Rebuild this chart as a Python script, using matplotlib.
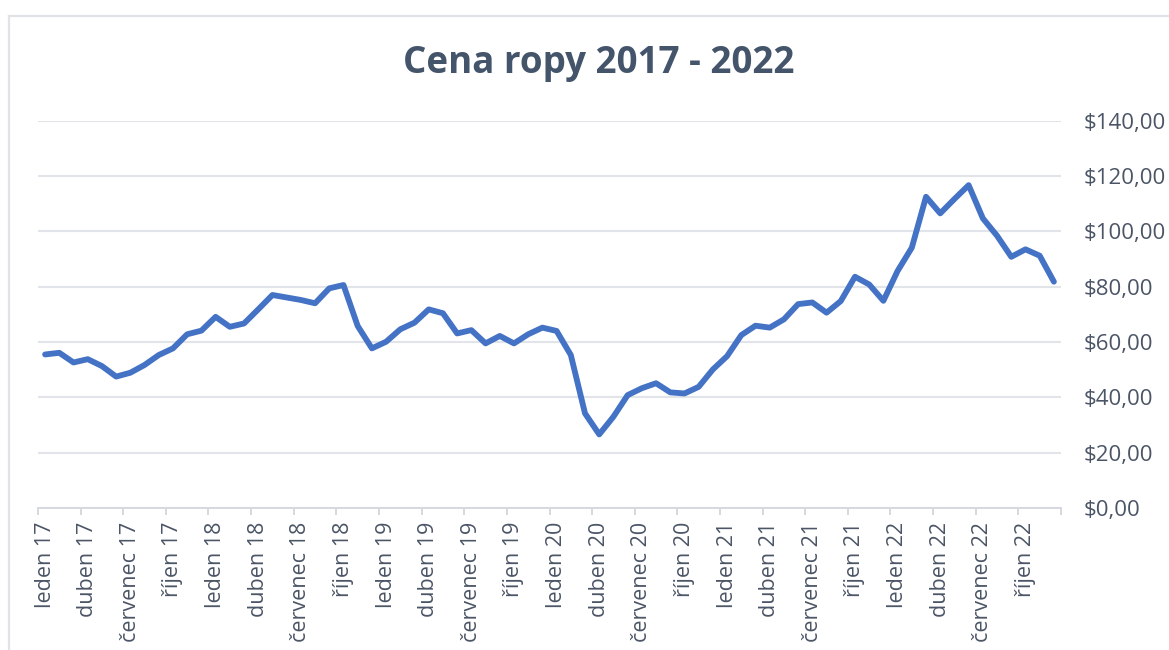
import matplotlib
matplotlib.use("Agg")
import matplotlib.pyplot as plt
from matplotlib.ticker import FuncFormatter, FixedLocator
from matplotlib.lines import Line2D

months_cz = ["leden", "únor", "březen", "duben", "květen", "červen",
             "červenec", "srpen", "září", "říjen", "listopad", "prosinec"]
years = ["17", "18", "19", "20", "21", "22"]
categories = [f"{m} {y}" for y in years for m in months_cz]

prices = [
    55.5, 56.1, 52.6, 53.8, 51.3, 47.5, 48.9, 51.7, 55.3, 57.7, 62.8, 64.1,
    69.1, 65.5, 66.7, 71.8, 77.0, 76.1, 75.2, 74.0, 79.4, 80.6, 65.8, 57.7,
    60.1, 64.6, 67.0, 71.8, 70.4, 63.1, 64.3, 59.5, 62.2, 59.5, 62.8, 65.2,
    64.0, 55.3, 34.2, 26.6, 33.0, 40.8, 43.3, 45.1, 41.8, 41.4, 43.8, 50.1,
    54.9, 62.5, 65.9, 65.2, 68.2, 73.7, 74.3, 70.6, 74.8, 83.6, 80.8, 74.9,
    85.7, 94.1, 112.5, 106.5, 111.7, 116.7, 104.7, 98.4, 90.8, 93.5, 91.2, 81.8,
]

title = "Cena ropy 2017 - 2022"
y_ticks = [0, 20, 40, 60, 80, 100, 120, 140]

FONT = "Open Sans"
TXT = "#4B5566"
TITLE_C = "#44546A"
LINE_C = "#4472C4"
GRID_C = "#E1E4E9"

W, H = 1169, 650
fig = plt.figure(figsize=(W / 100, H / 100), dpi=100)
fig.patch.set_facecolor("white")

ax = fig.add_axes([38 / W, 1 - 508 / H, (1061 - 38) / W, (508 - 120.7) / H])
x = list(range(len(prices)))
ax.plot(x, prices, color=LINE_C, lw=4.2, solid_joinstyle="round",
        solid_capstyle="round", zorder=3, clip_on=False)

ax.set_xlim(-0.5, len(prices) - 0.5)
ax.set_ylim(0, 140)

# y axis on right
ax.yaxis.tick_right()
ax.set_yticks(y_ticks)
ax.yaxis.set_major_formatter(FuncFormatter(lambda v, p: f"${v:.2f}".replace(".", ",")))
ax.tick_params(axis="y", length=0, pad=16.5, labelsize=16, labelcolor=TXT)
for lab in ax.get_yticklabels():
    lab.set_fontfamily(FONT)
ax.grid(axis="y", color=GRID_C, lw=1.5, zorder=0)

# x axis: boundary ticks every 3 months, labels on first month of each quarter
bounds = [i - 0.5 for i in range(0, len(prices) + 1, 3)]
label_pos = list(range(0, len(prices), 3))
ax.xaxis.set_major_locator(FixedLocator(bounds))
ax.xaxis.set_major_formatter(FuncFormatter(lambda v, p: ""))
ax.xaxis.set_minor_locator(FixedLocator(label_pos))
ax.set_xticklabels([categories[i] for i in label_pos], minor=True)
ax.tick_params(axis="x", which="major", length=5, width=1.4, color="#D5D9DF", direction="out")
ax.tick_params(axis="x", which="minor", length=0, pad=10, labelsize=15.5,
               labelcolor=TXT, labelrotation=90)
for lab in ax.get_xticklabels(minor=True):
    lab.set_fontfamily(FONT)
    lab.set_va("top")

for s in ["top", "left", "right"]:
    ax.spines[s].set_visible(False)
ax.spines["bottom"].set_color("#D5D9DF")
ax.spines["bottom"].set_linewidth(1.4)
ax.set_facecolor("none")

fig.text(599 / W, 1 - 73 / H, title, ha="center", va="baseline",
         fontsize=26.5, fontweight="bold", color=TITLE_C, family=FONT)

# chart border (top and left visible)
fig.add_artist(Line2D([8.5 / W, 8.5 / W], [0, 1 - 15.5 / H], transform=fig.transFigure,
                      color="#E0E3E8", lw=1.6))
fig.add_artist(Line2D([8.5 / W, 1], [1 - 15.5 / H, 1 - 15.5 / H], transform=fig.transFigure,
                      color="#E0E3E8", lw=1.6))

fig.savefig("out.png", dpi=100, facecolor="white")
